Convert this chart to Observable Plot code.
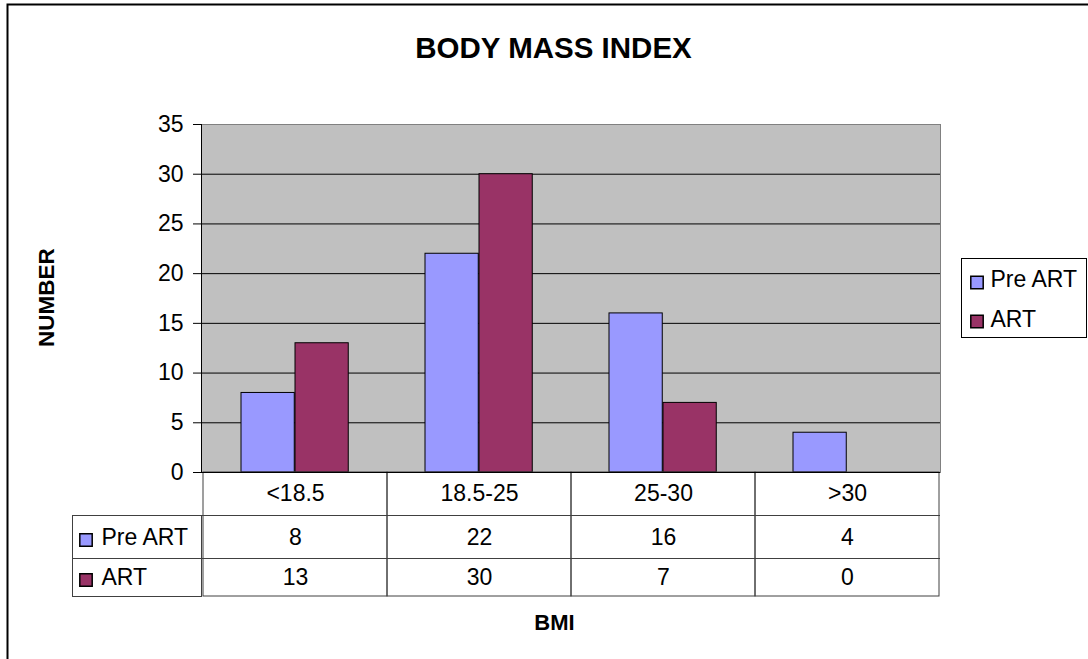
<!DOCTYPE html>
<html><head><meta charset="utf-8">
<script src="https://cdn.jsdelivr.net/npm/d3@7"></script>
<script src="https://cdn.jsdelivr.net/npm/@observablehq/plot@0.6"></script>
<style>
body{margin:0;background:#fff}
#chart svg{font-family:"Liberation Sans",Arial,sans-serif;display:block}
</style>
</head><body><div id="chart"></div>
<script>
const chartTitle = "BODY MASS INDEX";
const yTitle = "NUMBER";
const xTitle = "BMI";
const categories = ["<18.5", "18.5-25", "25-30", ">30"];
const seriesNames = ["Pre ART", "ART"];
const preART = [8, 22, 16, 4];
const art = [13, 30, 7, 0];
const yTicks = [0, 5, 10, 15, 20, 25, 30, 35];
const colors = ["#9999FF", "#993366"];

const seriesValues = [preART, art];
const rows = seriesNames.flatMap((s, i) => categories.map((c, j) => ({category: c, series: s, si: i, value: seriesValues[i][j]})));

const W = 1088, H = 659, mL = 201, mR = 148, mT = 124, mB = 187;
const plotW = W - mL - mR, plotH = H - mT - mB;
const bw = plotW / categories.length;
const barW = 54, gap = 38;
const fs = 23;
const lineC = "#404040";
const rowDy = [65, 105];
const swDy = [67.5, 107.5];
const mid = {lineAnchor: "middle", fill: "black"};

const marks = [
  Plot.frame({fill: "#c0c0c0", stroke: "#808080"}),
  Plot.ruleY(yTicks.filter(t => t > 0 && t < 35), {stroke: "black"}),
  ...seriesNames.map((s, i) => Plot.barY(rows.filter(d => d.si === i), {
    x: "category", y: "value", fill: colors[i], stroke: "black", strokeWidth: 1,
    insetLeft: gap + i * barW, insetRight: bw - gap - (i + 1) * barW
  })),
  Plot.frame({anchor: "left", stroke: "black"}),
  Plot.axisY(yTicks, {tickSize: 8, tickPadding: 10, fontSize: fs, label: null, stroke: "black"}),
  // data table
  Plot.cell(categories, {x: d => d, insetTop: plotH, insetBottom: -124, stroke: lineC, fill: "none"}),
  Plot.frame({insetLeft: -129, insetRight: plotW, insetTop: plotH + 43, insetBottom: -124, stroke: lineC}),
  Plot.ruleY([0], {dy: 86, insetLeft: -129, stroke: lineC}),
  Plot.ruleY([0], {dy: 43, stroke: lineC}),
  Plot.ruleY([0], {stroke: "black"}),
  Plot.text(categories, {x: d => d, text: d => d, frameAnchor: "bottom", dy: 21, fontSize: fs, ...mid}),
  ...seriesNames.map((s, i) => Plot.text(rows.filter(d => d.si === i), {
    x: "category", text: d => String(d.value), frameAnchor: "bottom", dy: rowDy[i], fontSize: fs, ...mid
  })),
  ...seriesNames.map((s, i) => Plot.dot([s], {frameAnchor: "bottom-left", dx: -115.5, dy: swDy[i], symbol: "square", r: 7, fill: colors[i], stroke: "black", strokeWidth: 1.5})),
  ...seriesNames.map((s, i) => Plot.text([s], {text: d => d, frameAnchor: "bottom-left", dx: -100, dy: rowDy[i], textAnchor: "start", fontSize: fs, ...mid})),
  // legend
  Plot.frame({insetLeft: plotW + 21, insetRight: -146, insetTop: 134, insetBottom: 135, stroke: "black", fill: "white"}),
  ...seriesNames.map((s, i) => Plot.dot([s], {frameAnchor: "right", dx: 36.5, dy: i === 0 ? -16 : 23, symbol: "square", r: 7, fill: colors[i], stroke: "black", strokeWidth: 1.5})),
  ...seriesNames.map((s, i) => Plot.text([s], {text: d => d, frameAnchor: "right", dx: 50, dy: i === 0 ? -19 : 21, textAnchor: "start", fontSize: fs, ...mid})),
  // titles
  Plot.text([chartTitle], {text: d => d, frameAnchor: "top", dx: -17.5, dy: -76, fontSize: 29.5, fontWeight: "bold", ...mid}),
  Plot.text([yTitle], {text: d => d, frameAnchor: "left", dx: -155, dy: -1, rotate: -90, textAnchor: "middle", fontSize: 22.5, fontWeight: "bold", ...mid}),
  Plot.text([xTitle], {text: d => d, frameAnchor: "bottom", dx: -16.5, dy: 150, fontSize: 22, fontWeight: "bold", ...mid}),
  // outer border
  Plot.frame({insetLeft: -194, insetTop: -120, insetRight: -200, insetBottom: -250, stroke: "black", strokeWidth: 2})
];

const chart = Plot.plot({
  width: W, height: H,
  marginLeft: mL, marginRight: mR, marginTop: mT, marginBottom: mB,
  x: {type: "band", domain: categories, padding: 0, axis: null},
  y: {domain: [0, 35], axis: null},
  style: {fontFamily: "'Liberation Sans', Arial, sans-serif", background: "white", overflow: "hidden"},
  marks
});
document.getElementById("chart").appendChild(chart);
</script>
</body></html>
